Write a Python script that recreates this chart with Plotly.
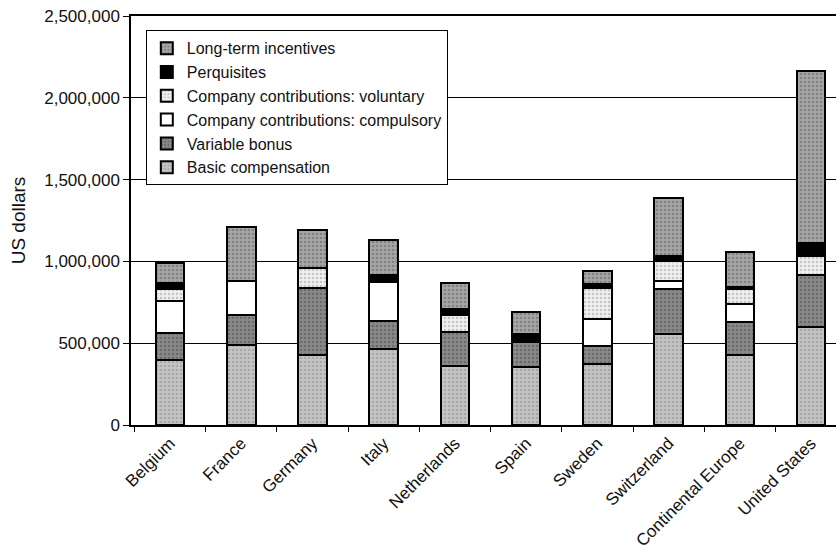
import plotly.graph_objects as go

# Average executive pay package by country (US dollars)
countries = ["Belgium", "France", "Germany", "Italy", "Netherlands", "Spain",
             "Sweden", "Switzerland", "Continental Europe", "United States"]

basic_compensation = [400000, 490000, 425000, 465000, 360000, 355000, 375000, 555000, 430000, 600000]
variable_bonus = [160000, 180000, 410000, 170000, 210000, 155000, 110000, 275000, 200000, 315000]
contrib_compulsory = [200000, 210000, 0, 240000, 0, 0, 165000, 50000, 110000, 0]
contrib_voluntary = [70000, 0, 125000, 0, 100000, 0, 190000, 120000, 90000, 115000]
perquisites = [40000, 0, 0, 40000, 40000, 45000, 20000, 35000, 15000, 80000]
long_term_incentives = [120000, 330000, 235000, 215000, 155000, 135000, 80000, 355000, 210000, 1055000]

y_ticks = [0, 500000, 1000000, 1500000, 2000000, 2500000]

FONT = "Liberation Sans, Arial, Helvetica, sans-serif"

series = [
    ("Basic compensation", basic_compensation, "#c4c4c4", "#8c8c8c", "."),
    ("Variable bonus", variable_bonus, "#8a8a8a", "#4a4a4a", "."),
    ("Company contributions: compulsory", contrib_compulsory, "#ffffff", "#ffffff", ""),
    ("Company contributions: voluntary", contrib_voluntary, "#f0f0f0", "#9a9a9a", "."),
    ("Perquisites", perquisites, "#000000", "#000000", ""),
    ("Long-term incentives", long_term_incentives, "#a6a6a6", "#5e5e5e", "."),
]

fig = go.Figure()
for name, vals, bg, fg, shape in series:
    fig.add_trace(go.Bar(
        name=name,
        x=countries,
        y=vals,
        width=0.4,
        marker=dict(
            color=bg,
            line=dict(color="#000000", width=2),
            pattern=dict(shape=shape, bgcolor=bg, fgcolor=fg, size=4, solidity=0.35),
        ),
    ))

fig.update_layout(
    barmode="stack",
    width=836,
    height=554,
    margin=dict(l=131, r=0, t=16, b=129),
    paper_bgcolor="#ffffff",
    plot_bgcolor="#ffffff",
    font=dict(family=FONT, size=14, color="#111111"),
    showlegend=True,
    legend=dict(
        x=0.021, y=0.965, xanchor="left", yanchor="top",
        traceorder="reversed",
        bgcolor="#ffffff",
        bordercolor="#000000",
        borderwidth=1,
        font=dict(family=FONT, size=16, color="#111111"),
        itemwidth=30,
    ),
    xaxis=dict(
        range=[-0.548, 9.35],
        showline=True,
        mirror=True,
        linecolor="#000000",
        linewidth=1.5,
        ticks="outside",
        tickson="boundaries",
        ticklen=5,
        tickcolor="#000000",
        tickangle=-45,
        tickfont=dict(family=FONT, size=17, color="#111111"),
        showgrid=False,
    ),
    yaxis=dict(
        range=[0, 2500000],
        tickvals=y_ticks,
        tickformat=",d",
        showline=True,
        linecolor="#000000",
        linewidth=1.5,
        ticks="outside",
        ticklen=6,
        tickcolor="#000000",
        showgrid=True,
        gridcolor="#000000",
        gridwidth=1.4,
        zeroline=False,
        tickfont=dict(family=FONT, size=17, color="#111111"),
        title=dict(text="US dollars", font=dict(family=FONT, size=19, color="#111111"), standoff=14),
    ),
)

fig.write_html("out.html")
